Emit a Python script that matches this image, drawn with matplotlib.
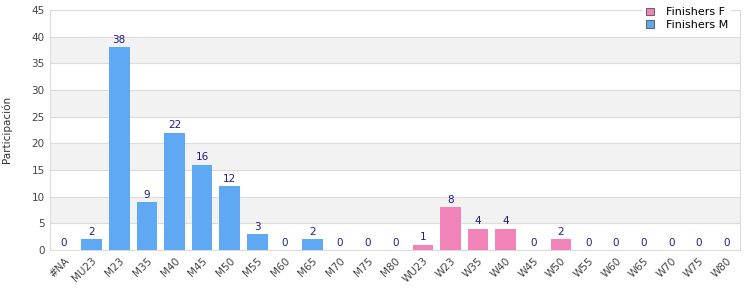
import matplotlib
matplotlib.use("Agg")
import matplotlib.pyplot as plt
import numpy as np

cats_m = ['#NA', 'MU23', 'M23', 'M35', 'M40', 'M45', 'M50', 'M55', 'M60', 'M65', 'M70', 'M75', 'M80']
vals_m = [0, 2, 38, 9, 22, 16, 12, 3, 0, 2, 0, 0, 0]
cats_f = ['WU23', 'W23', 'W35', 'W40', 'W45', 'W50', 'W55', 'W60', 'W65', 'W70', 'W75', 'W80']
vals_f = [1, 8, 4, 4, 0, 2, 0, 0, 0, 0, 0, 0]

blue = '#5fa8f3'
pink = '#f283b8'
grid_c = '#dcdcdc'

plt.rcParams['font.family'] = 'DejaVu Sans'
fig = plt.figure(figsize=(7.5, 3), dpi=100)
ax = fig.add_axes([0.067, 0.167, 0.92, 0.8])

xm = np.arange(len(cats_m))
xf = np.arange(len(cats_f)) + len(cats_m)
bf = ax.bar(xf, vals_f, 0.75, color=pink, label='Finishers F', zorder=3)
bm = ax.bar(xm, vals_m, 0.75, color=blue, label='Finishers M', zorder=3)
for b in (bm, bf):
    ax.bar_label(b, padding=1.5, color='#1c1c8a', fontsize=7.5)

# alternating bands
for y0 in range(5, 45, 10):
    ax.axhspan(y0, y0 + 5, color='#f2f2f2', zorder=0)
ax.set_ylim(0, 45)
ax.set_yticks(range(0, 50, 5))
ax.grid(axis='y', color=grid_c, linewidth=0.8, zorder=1)
ax.set_xlim(-0.5, len(cats_m) + len(cats_f) - 0.5)
ax.set_xticks(np.concatenate([xm, xf]))
ax.set_xticklabels(cats_m + cats_f, rotation=45, ha='right', rotation_mode='anchor')
ax.tick_params(length=0, labelsize=7.5, colors='#444444', pad=4)
for s in ax.spines.values():
    s.set_color(grid_c)
ax.set_ylabel('Participación', fontsize=7.5, color='#333333', labelpad=14)

leg = ax.legend(loc='upper right', bbox_to_anchor=(0.995, 1.045), fontsize=8,
                frameon=True, fancybox=False, edgecolor='none', framealpha=1,
                handlelength=0.7, handleheight=0.7, handletextpad=1.1,
                borderpad=0.25, labelspacing=0.25)
for h in leg.legend_handles:
    h.set_edgecolor('#666666')
    h.set_linewidth(0.8)
leg.set_zorder(5)

fig.savefig('out.png', dpi=100)
